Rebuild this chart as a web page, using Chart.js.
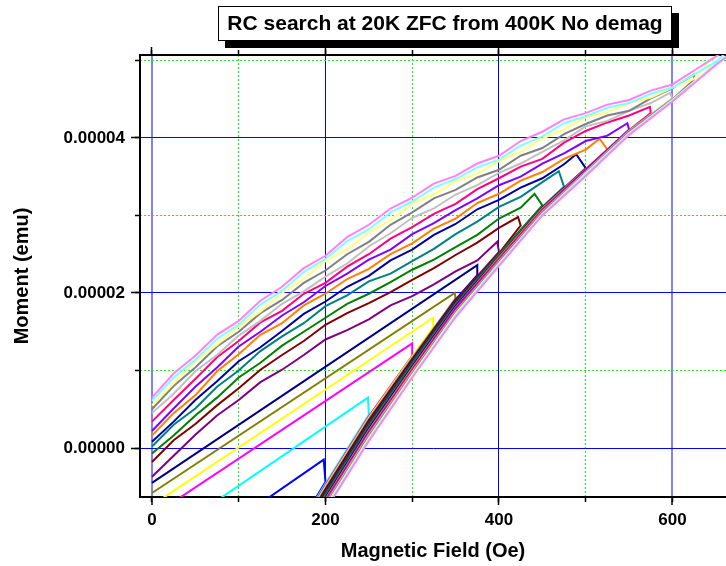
<!DOCTYPE html>
<html>
<head>
<meta charset="utf-8">
<script src="https://cdn.jsdelivr.net/npm/chart.js@4.4.0/dist/chart.umd.min.js"></script>
<style>
  html, body { margin: 0; padding: 0; background: #fff; }
  canvas { display: block; }
</style>
</head>
<body>
<canvas id="chart" width="726" height="566"></canvas>
<script>
const FONT = "'Liberation Sans', Arial, Helvetica, sans-serif";
const chartTitle = 'RC search at 20K ZFC from 400K No demag';

// one reversal curve per field (Oe), Igor-style colour order
const reversalFields = [200, 250, 300, 325, 350, 375, 400, 425, 450, 475, 500, 525, 550, 575, 600, 625, 650, 675, 700];
const curveColors = ['#0000ff', '#00ffff', '#ff00ff', '#ffff00', '#808000', '#000080', '#800080', '#800000', '#008000', '#008080',
                     '#0000a0', '#ff8000', '#8000ff', '#ff0080', '#c0c0c0', '#808080', '#ffff80', '#80ffff', '#ff80ff'];

// moments below are in 1e-6 emu
// ascending branch: values at ascendingFields under the reversal field, last value is at the reversal field itself
const ascendingFields = [175, 200, 250, 300, 350, 400, 450, 500, 550, 600, 650, 700];
const ascendingMoments = [
  [-9.0, -4.4],
  [-9.2, -4.6, 4.3],
  [-9.4, -4.8, 4.1, 11.9],
  [-9.6, -5.0, 3.9, 11.8, 15.7],
  [-9.8, -5.2, 3.7, 11.6, 19.3],
  [-10.0, -5.4, 3.5, 11.4, 19.15, 22.3],
  [-10.2, -5.6, 3.3, 11.2, 19.0, 25.3],
  [-10.4, -5.8, 3.1, 11.0, 18.8, 25.1, 28.7],
  [-10.6, -6.0, 2.9, 10.9, 18.6, 25.0, 31.3],
  [-10.8, -6.2, 2.7, 10.7, 18.5, 24.8, 31.1, 33.7],
  [-11.0, -6.4, 2.5, 10.5, 18.3, 24.7, 31.0, 36.1],
  [-11.2, -6.6, 2.3, 10.3, 18.1, 24.6, 30.9, 36.0, 38.5],
  [-11.4, -6.8, 2.1, 10.1, 18.0, 24.4, 30.7, 35.9, 41.1],
  [-11.6, -7.0, 1.9, 10.0, 17.8, 24.3, 30.6, 35.7, 41.0, 43.2],
  [-11.8, -7.2, 1.7, 9.8, 17.6, 24.1, 30.5, 35.6, 40.9, 45.1],
  [-12.0, -7.4, 1.5, 9.6, 17.5, 24.0, 30.4, 35.5, 40.8, 45.0, 47.5],
  [-12.2, -7.6, 1.3, 9.4, 17.3, 23.8, 30.2, 35.4, 40.6, 44.9, 49.6],
  [-12.4, -7.8, 1.1, 9.2, 17.1, 23.7, 30.1, 35.3, 40.5, 44.8, 49.5, 51.6],
  [-12.6, -8.0, 0.9, 9.1, 16.9, 23.5, 30.0, 35.1, 40.4, 44.7, 49.4, 53.7]
];

// first point of the return branch (field in Oe, moment in 1e-6 emu)
const tipFields = [198, 249, 300, 324, 349, 375, 398, 422, 441, 469, 489, 516, 548, 574, 597, 625, 646, 675, 700];
const tipMoments = [-1.5, 6.5, 13.5, 16.8, 20.0, 23.6, 26.6, 29.8, 32.8, 35.7, 37.9, 39.9, 41.9, 44.0, 45.8, 48.2, 50.3, 52.4, 54.5];

// return branch: values at descendingFields from 0 up to the last step below the reversal field
const descendingFields = [0, 25, 50, 75, 100, 125, 150, 175, 200, 225, 250, 275, 300, 325, 350, 375, 400, 425, 450, 475, 500, 525, 550, 575, 600, 625, 650, 675, 700];
const descendingMoments = [
  [-16.8],
  [-12.5],
  [-8.8],
  [-7.4],
  [-5.8],
  [-4.5],
  [-3.7, -1.0, 1.7, 4.2, 6.2, 8.5, 10.1, 12.0, 14.0, 15.2, 16.6, 18.4, 19.6, 21.1, 22.8, 24.2],
  [-1.8, 1.0, 3.1, 5.5, 7.7, 10.1, 12.0, 13.8, 15.9, 17.4, 18.7, 20.1, 21.7, 23.2, 24.9, 26.5, 28.4],
  [-0.7, 1.6, 4.2, 6.5, 9.1, 11.0, 13.2, 15.0, 16.8, 18.6, 19.9, 21.4, 23.0, 24.3, 25.9, 27.5, 29.6, 31.0],
  [0.2, 3.0, 5.1, 7.9, 10.0, 12.5, 14.4, 16.1, 18.3, 19.7, 21.5, 22.5, 24.1, 25.7, 27.6, 29.2, 31.1, 32.4, 34.3],
  [0.8, 3.4, 6.2, 8.6, 11.2, 13.0, 15.1, 17.3, 18.9, 20.8, 22.2, 24.2, 25.6, 27.5, 28.9, 30.8, 32.0, 33.6, 34.8, 36.6],
  [1.6, 4.5, 6.8, 9.9, 12.1, 14.6, 16.1, 18.4, 19.9, 21.8, 23.1, 25.0, 26.4, 28.3, 29.6, 31.6, 32.8, 34.5, 35.6, 37.3, 38.5],
  [2.2, 5.1, 7.9, 10.4, 13.1, 15.0, 17.1, 18.8, 20.9, 22.5, 24.3, 25.6, 27.6, 29.0, 30.7, 32.2, 33.9, 35.0, 36.7, 38.0, 39.6, 40.3],
  [3.4, 6.2, 8.9, 11.7, 13.8, 16.2, 17.7, 19.9, 21.3, 23.4, 25.0, 27.0, 28.5, 30.2, 31.5, 33.4, 34.8, 36.3, 37.3, 39.4, 40.9, 42.0, 42.9],
  [4.5, 7.0, 9.9, 12.0, 14.5, 16.4, 18.6, 20.2, 22.1, 23.8, 26.0, 27.7, 29.7, 30.9, 32.7, 33.9, 35.5, 36.7, 38.2, 39.7, 41.5, 42.2, 43.5, 44.5],
  [5.0, 8.0, 10.4, 13.1, 15.0, 17.4, 19.1, 21.3, 22.9, 25.0, 26.6, 28.8, 30.4, 32.2, 33.3, 34.9, 35.9, 37.7, 38.7, 40.5, 41.8, 42.9, 43.5, 45.1, 46.4],
  [5.5, 8.3, 11.2, 13.3, 15.7, 17.6, 20.0, 21.8, 24.1, 25.6, 27.8, 29.4, 31.5, 32.7, 34.4, 35.4, 37.0, 38.2, 39.9, 41.1, 42.7, 43.3, 44.5, 45.2, 46.5, 47.6],
  [6.1, 9.1, 11.4, 14.1, 15.9, 18.5, 20.3, 22.7, 24.4, 26.7, 28.2, 30.4, 31.8, 33.6, 34.7, 36.2, 37.2, 39.0, 40.2, 41.9, 42.8, 43.9, 44.5, 45.7, 46.5, 48.2, 49.8],
  [6.5, 9.6, 11.9, 14.6, 16.4, 19.0, 20.8, 23.2, 24.8, 27.2, 28.8, 30.9, 32.3, 34.1, 35.1, 36.7, 37.7, 39.6, 40.8, 42.4, 43.2, 44.3, 44.9, 46.1, 46.9, 48.7, 50.5, 52.5]
];

const xMin = -13.8, xMax = 661.7;
const yMin = -6.32e-6, yMax = 5.07e-5;

function buildCurve(i) {
  const pts = [];
  const asc = ascendingMoments[i];
  for (let k = 0; k < asc.length - 1; k++) pts.push({ x: ascendingFields[k], y: asc[k] * 1e-6 });
  pts.push({ x: reversalFields[i], y: asc[asc.length - 1] * 1e-6 });
  pts.push({ x: tipFields[i], y: tipMoments[i] * 1e-6 });
  const desc = descendingMoments[i];
  for (let k = desc.length - 1; k >= 0; k--) pts.push({ x: descendingFields[k], y: desc[k] * 1e-6 });
  return pts;
}

const datasets = reversalFields.map((hr, i) => ({
  label: 'Hr ' + hr,
  data: buildCurve(i),
  borderColor: curveColors[i],
  borderWidth: 2,
  pointRadius: 0,
  tension: 0,
  fill: false,
  order: reversalFields.length - 1 - i
}));

const isOddStep = (v, step) => Math.abs(Math.round(v / step)) % 2 === 1;
const clear = 'rgba(0,0,0,0)';
const minorGreen = '#22ee22';

const titleBox = {
  id: 'titleBox',
  afterDraw(chart) {
    const c = chart.ctx;
    c.save();
    c.fillStyle = '#000';
    c.fillRect(225, 13, 454, 35);
    c.fillStyle = '#fff';
    c.fillRect(218, 6, 454, 35);
    c.strokeStyle = '#000';
    c.lineWidth = 1;
    c.strokeRect(218.5, 6.5, 453, 34);
    c.fillStyle = '#000';
    c.font = 'bold 21px ' + FONT;
    c.textAlign = 'center';
    c.textBaseline = 'middle';
    c.fillText(chartTitle, 445, 24);
    c.restore();
  }
};

new Chart(document.getElementById('chart'), {
  type: 'line',
  data: { datasets },
  plugins: [titleBox],
  options: {
    responsive: false,
    devicePixelRatio: 1,
    animation: false,
    events: [],
    layout: { padding: { top: 55, left: 0, right: 0, bottom: 0 } },
    plugins: { legend: { display: false }, tooltip: { enabled: false } },
    scales: {
      x: {
        type: 'linear', position: 'bottom', weight: 1, min: xMin, max: xMax,
        ticks: { stepSize: 200, includeBounds: false, color: '#000', padding: 5, maxRotation: 0,
                 font: { family: FONT, size: 17, weight: 'bold' } },
        grid: {
          color: ctx => (ctx.tick && (ctx.tick.value === 0 || ctx.tick.value === 600)) ? '#8080ff' : '#0000ff',
          lineWidth: ctx => (ctx.tick && (ctx.tick.value === 0 || ctx.tick.value === 600)) ? 2 : 1,
          tickColor: '#000', tickLength: 8, tickWidth: 1.5
        },
        border: { color: '#000', width: 2 },
        title: { display: true, text: 'Magnetic Field (Oe)', color: '#000',
                 font: { family: FONT, size: 20, weight: 'bold' }, padding: { top: 0, bottom: 3 } },
        afterFit: s => { s.height = 69; }
      },
      xMinor: {
        type: 'linear', position: 'bottom', weight: 0, min: xMin, max: xMax,
        ticks: { stepSize: 100, includeBounds: false, display: false },
        grid: { color: ctx => (ctx.tick && isOddStep(ctx.tick.value, 100)) ? minorGreen : clear,
                lineWidth: 1, tickColor: '#000', tickLength: 5, tickWidth: 1.5 },
        border: { display: false, dash: [2, 2] },
        afterFit: s => { s.height = 0; }
      },
      xTop: {
        type: 'linear', position: 'top', weight: 1, min: xMin, max: xMax,
        ticks: { stepSize: 200, includeBounds: false, display: false },
        grid: { drawOnChartArea: false, tickColor: '#000', tickLength: 8, tickWidth: 1.5 },
        border: { color: '#000', width: 2 },
        afterFit: s => { s.height = 0; }
      },
      xTopMinor: {
        type: 'linear', position: 'top', weight: 0, min: xMin, max: xMax,
        ticks: { stepSize: 100, includeBounds: false, display: false },
        grid: { drawOnChartArea: false, tickColor: '#000', tickLength: 5, tickWidth: 1.5 },
        border: { display: false },
        afterFit: s => { s.height = 0; }
      },
      y: {
        type: 'linear', position: 'left', weight: 1, min: yMin, max: yMax,
        ticks: { stepSize: 2e-5, includeBounds: false, color: '#000', padding: 6,
                 font: { family: FONT, size: 17, weight: 'bold' },
                 callback: v => Number(v).toFixed(5) },
        grid: { color: '#0000ff', lineWidth: 1, tickColor: '#000', tickLength: 9, tickWidth: 1.5 },
        border: { color: '#000', width: 2 },
        title: { display: true, text: 'Moment (emu)', color: '#000',
                 font: { family: FONT, size: 20, weight: 'bold' }, padding: { top: 10, bottom: 0 } },
        afterFit: s => { s.width = 140; }
      },
      yMinor: {
        type: 'linear', position: 'left', weight: 0, min: yMin, max: yMax,
        ticks: { stepSize: 1e-5, includeBounds: false, display: false },
        grid: { color: ctx => (ctx.tick && isOddStep(ctx.tick.value, 1e-5)) ? minorGreen : clear,
                lineWidth: 1, tickColor: '#000', tickLength: 5, tickWidth: 1.5 },
        border: { display: false, dash: [2, 2] },
        afterFit: s => { s.width = 0; }
      }
    }
  }
});
</script>
</body>
</html>
